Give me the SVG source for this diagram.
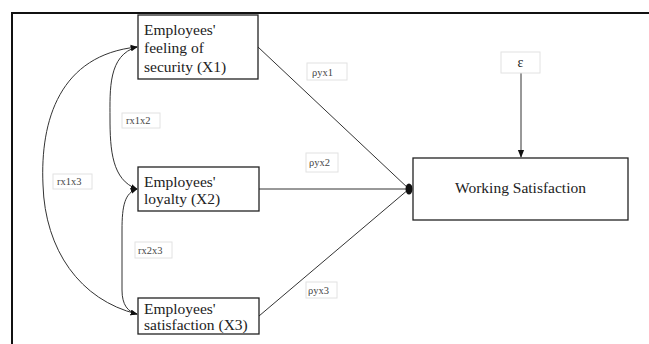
<svg xmlns="http://www.w3.org/2000/svg" width="649" height="344" viewBox="0 0 649 344">
<style>
.node rect{fill:#fff;stroke:#222;stroke-width:1.3}
.node text{font-size:15.5px;fill:#222}
.lbl rect{fill:#fff;stroke:#e2e2e2;stroke-width:1}
.lbl text{font-size:10.5px;fill:#444}
.lbl text.eps{font-size:14px;fill:#222}
.conn{fill:none;stroke:#333;stroke-width:1}
.curve{fill:none;stroke:#333;stroke-width:1;marker-start:url(#ah);marker-end:url(#ah)}
</style>
<defs>
<marker id="ah" viewBox="0 0 10 10" refX="9" refY="5" markerWidth="7" markerHeight="7" markerUnits="userSpaceOnUse" orient="auto-start-reverse">
<path d="M0,1 L10,5 L0,9 Z" fill="#111"/>
</marker>
<marker id="ah2" viewBox="0 0 10 10" refX="9" refY="5" markerWidth="8" markerHeight="8" markerUnits="userSpaceOnUse" orient="auto">
<path d="M0,1 L10,5 L0,9 Z" fill="#111"/>
</marker>
</defs>
<rect width="649" height="344" fill="#fff"/>
<path d="M12,344 V13 H649" fill="none" stroke="#111" stroke-width="2"/>

<g id="connectors">
<path class="conn" d="M258,47 L409,189"/>
<path class="conn" d="M259,189 L409,189"/>
<path class="conn" d="M259,316 L409,189"/>
<ellipse cx="409" cy="189" rx="3.5" ry="5.5" fill="#111"/>
<path class="conn" d="M521,73 L521,157" marker-end="url(#ah2)" stroke-width="1.3"/>
<path class="curve" d="M137,47 C60,55 40,120 43,185 C45,250 80,300 137,314"/>
<path class="curve" d="M137,47 C108,55 110,90 110,118 C110,150 112,180 137,189"/>
<path class="curve" d="M137,189 C125,193 122,205 122,230 L122,290 C122,305 128,312 137,314"/>
</g>

<g font-family="'Liberation Serif', 'DejaVu Serif', serif">
<g id="x1" class="node">
<rect x="138" y="15" width="120" height="64"/>
<text x="144" y="35">Employees'</text>
<text x="144" y="53">feeling of</text>
<text x="144" y="72">security (X1)</text>
</g>
<g id="x2" class="node">
<rect x="138" y="167" width="121" height="44"/>
<text x="144" y="187">Employees'</text>
<text x="144" y="204">loyalty (X2)</text>
</g>
<g id="x3" class="node">
<rect x="138" y="298" width="121" height="36"/>
<text x="144" y="314">Employees'</text>
<text x="144" y="330">satisfaction (X3)</text>
</g>
<g id="y" class="node">
<rect x="413" y="158" width="215" height="62"/>
<text x="520.5" y="193" text-anchor="middle">Working Satisfaction</text>
</g>
<g id="eps" class="lbl">
<rect x="501" y="52" width="39" height="21"/>
<text class="eps" x="520.5" y="67" text-anchor="middle">ε</text>
</g>

<g id="lbl-pyx1" class="lbl"><rect x="307" y="63" width="40" height="17"/><text x="312" y="76">ρyx1</text></g>
<g id="lbl-pyx2" class="lbl"><rect x="306" y="153" width="32" height="19"/><text x="309" y="166">ρyx2</text></g>
<g id="lbl-pyx3" class="lbl"><rect x="306" y="282" width="31" height="16"/><text x="308" y="294">ρyx3</text></g>
<g id="lbl-rx1x2" class="lbl"><rect x="122" y="113" width="38" height="15"/><text x="126" y="124">rx1x2</text></g>
<g id="lbl-rx1x3" class="lbl"><rect x="53" y="174" width="39" height="15"/><text x="57" y="185">rx1x3</text></g>
<g id="lbl-rx2x3" class="lbl"><rect x="135" y="242" width="37" height="16"/><text x="138" y="254">rx2x3</text></g>
</g>
</svg>
